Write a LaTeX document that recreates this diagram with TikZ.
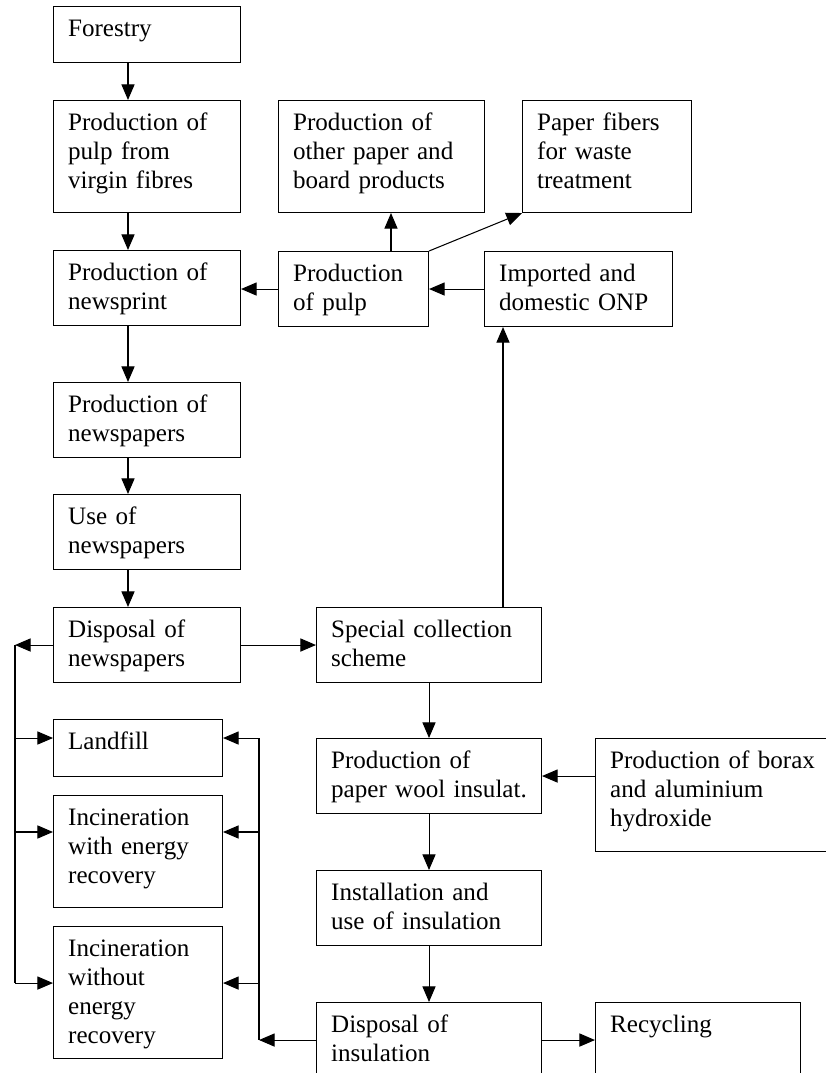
\documentclass[tikz,border=0pt]{standalone}
\usepackage{fontspec}
\setmainfont{Liberation Serif}
\usetikzlibrary{arrows.meta}
\begin{document}
\begin{tikzpicture}[x=0.4785pt, y=-0.4785pt, line width=0.5pt,
    box/.style 2 args={draw, anchor=north west, align=left, inner xsep=7pt, inner ysep=5pt,
      text height=9.35pt, text width=#1, text depth=#2, font=\fontsize{12pt}{13.9pt}\selectfont},
    arr/.style={-{Triangle[length=7.5pt,width=6.3pt]}}]
    % Page frame
    \clip (0,0) rectangle (826,1073);
    \fill[white] (0,0) rectangle (826,1073);

    % Newspaper chain
    \node[box={75.48pt}{7.45pt}] (forestry) at (53,6) {Forestry};
    \node[box={75.48pt}{34.24pt}] (virgin) at (53,100) {Production of\\pulp from\\virgin fibres};
    \node[box={75.48pt}{16.54pt}] (newsprint) at (53,250) {Production of\\newsprint};
    \node[box={75.48pt}{16.54pt}] (newspapers) at (53,382) {Production of\\newspapers};
    \node[box={75.48pt}{16.54pt}] (use) at (53,494) {Use of\\newspapers};
    \node[box={75.48pt}{16.54pt}] (disposal) at (53,607) {Disposal of\\newspapers};

    % Waste treatment
    \node[box={66.87pt}{7.92pt}] (landfill) at (53,719) {Landfill};
    \node[box={66.87pt}{34.24pt}] (incwith) at (53,795) {Incineration\\with energy\\recovery};
    \node[box={66.87pt}{43.81pt}] (incwithout) at (53,926) {Incineration\\without\\energy\\recovery};

    % Pulp and recovered paper
    \node[box={84.57pt}{34.24pt}] (other) at (278,100) {Production of\\other paper and\\board products};
    \node[box={66.87pt}{34.24pt}] (fibers) at (522,100) {Paper fibers\\for waste\\treatment};
    \node[box={57.78pt}{16.54pt}] (pulp) at (278,251) {Production\\of pulp};
    \node[box={75.96pt}{16.54pt}] (onp) at (484,251) {Imported and\\domestic ONP};

    % Insulation chain
    \node[box={93.66pt}{16.54pt}] (special) at (316,607) {Special collection\\scheme};
    \node[box={93.66pt}{16.54pt}] (wool) at (316,738) {Production of\\paper wool insulat.};
    \node[box={103.23pt}{34.72pt}] (borax) at (595,738) {Production of borax\\and aluminium\\hydroxide};
    \node[box={93.66pt}{16.54pt}] (install) at (316,870) {Installation and\\use of insulation};
    \node[box={93.66pt}{16.54pt}] (dispins) at (316,1002) {Disposal of\\insulation};
    \node[box={84.09pt}{16.54pt}] (recycling) at (595,1002) {Recycling};

    % Guide lines for the arrows
    \coordinate (lcol) at (128,0);
    \coordinate (upx) at (391,0);
    \coordinate (onpx) at (503,0);
    \coordinate (lbus) at (15,0);
    \coordinate (rbus) at (259,0);

    % Main flows
    \foreach \a/\b in {forestry/virgin, virgin/newsprint, newsprint/newspapers, newspapers/use, use/disposal}
        \draw[arr] (\a.south -| lcol) -- (\b.north -| lcol);
    \foreach \a/\b in {special/wool, wool/install, install/dispins}
        \draw[arr] (\a.south) -- (\b.north);
    \draw[arr] (pulp.west) -- (pulp.west -| newsprint.east);
    \draw[arr] (onp.west) -- (onp.west -| pulp.east);
    \draw[arr] (pulp.north -| upx) -- (other.south -| upx);
    \draw[arr] (pulp.north east) -- (fibers.south west);
    \draw[arr] (special.north -| onpx) -- (onp.south -| onpx);
    \draw[arr] (disposal.east) -- (special.west);
    \draw[arr] (wool.east -| borax.west) -- (wool.east);
    \draw[arr] (dispins.east) -- (dispins.east -| recycling.west);

    % Disposal routes
    \foreach \n/\d in {landfill/9.1pt, incwith/17.7pt, incwithout/27.3pt} {
        \coordinate (\n-y) at ([yshift=-\d]\n.north);
        \draw[arr] (\n-y -| lbus) -- (\n-y -| \n.west);
        \draw[arr] (\n-y -| rbus) -- (\n-y -| \n.east);
    }
    \draw[arr] (disposal.west) -- (disposal.west -| lbus);
    \draw (disposal.west -| lbus) -- (incwithout-y -| lbus);
    \draw[arr] (dispins.west) -- (dispins.west -| rbus);
    \draw (landfill-y -| rbus) -- (dispins.west -| rbus);
\end{tikzpicture}
\end{document}
